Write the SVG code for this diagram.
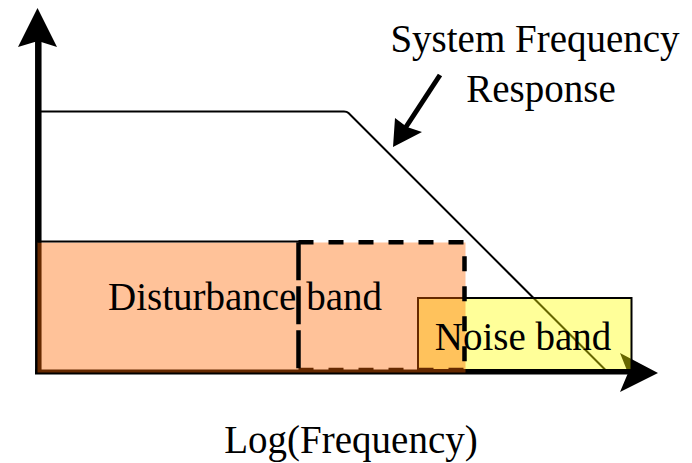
<svg xmlns="http://www.w3.org/2000/svg" width="692" height="463" viewBox="0 0 692 463">
<style>
text{font-family:"Liberation Serif","Times New Roman",serif;font-size:39px;fill:#000;text-anchor:middle}
.thin{fill:none;stroke:#000;stroke-width:2}
.dash{fill:none;stroke:#000;stroke-width:4.5;stroke-dasharray:15 15}
</style>
<rect width="692" height="463" fill="#fff"/>
<g id="response">
<path class="thin" d="M40 111.5 H344 Q347 111.5 348.5 113 L608 372.5"/>
</g>
<g id="axes">
<line x1="38.3" y1="374" x2="38.3" y2="40" stroke="#000" stroke-width="6.5"/>
<polygon points="37.5,8 57,47 38,41 18,47" fill="#000"/>
<line x1="35" y1="372" x2="630" y2="372" stroke="#000" stroke-width="5"/>
<polygon points="658,373 620,353 628,373 620,392" fill="#000"/>
</g>
<g id="noise-band">
<rect x="418" y="298" width="213.5" height="72" fill="#FFFF00" fill-opacity="0.4" stroke="#000" stroke-width="2"/>
</g>
<g id="disturbance-band">
<line class="dash" x1="298.5" y1="370" x2="464.5" y2="370"/>
<rect x="37.5" y="242.5" width="428" height="130" fill="#FF6600" fill-opacity="0.4"/>
<line x1="38" y1="241.5" x2="305" y2="241.5" stroke="#000" stroke-width="2"/>
<text x="245" y="310">Disturbance band</text>
<path class="dash" d="M298.5 242.3 H464.5 V370"/>
<path class="dash" d="M298.5 242.3 V370" style="stroke-dasharray:38 6"/>
</g>
<text x="523" y="350">Noise band</text>
<g id="labels">
<text x="535" y="52">System Frequency</text>
<text x="541" y="102">Response</text>
<text x="351" y="453">Log(Frequency)</text>
</g>
<g id="connectors">
<line x1="440" y1="75" x2="404" y2="130" stroke="#000" stroke-width="5"/>
<polygon points="393,147 395,118 407,127 422,132" fill="#000"/>
</g>
</svg>
